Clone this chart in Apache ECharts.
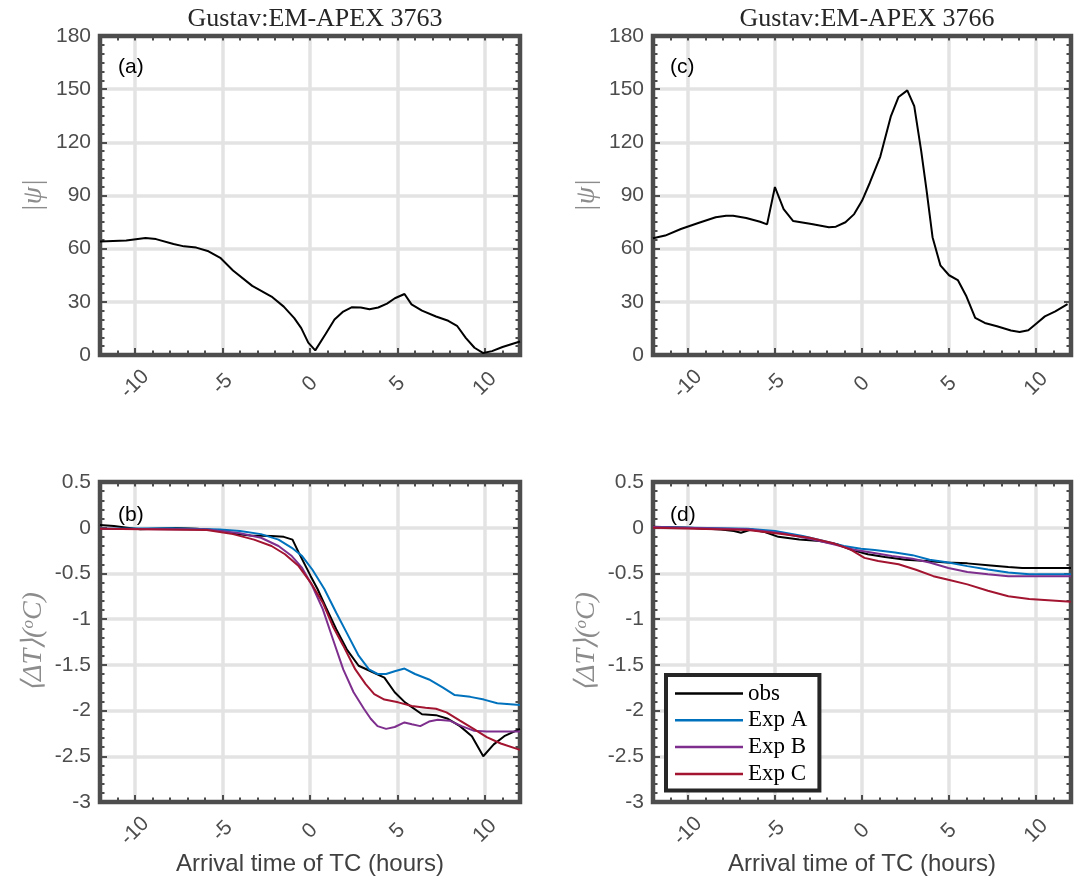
<!DOCTYPE html>
<html>
<head>
<meta charset="utf-8">
<script src="https://cdn.jsdelivr.net/npm/echarts@6/dist/echarts.min.js"></script>
<style>
  html, body { margin: 0; padding: 0; background: #fff; }
  #main { width: 1083px; height: 888px; }
</style>
</head>
<body>
<div id="main"></div>
<script>
// ---- data: [hour, value] ----
var psi3763 = [[-12,64],[-10.5,64.6],[-9.4,66],[-8.8,65.4],[-7.8,62.6],[-7.2,61.3],[-6.5,60.6],[-5.8,58.5],[-5.1,54.6],[-4.4,47.7],[-3.3,39],[-2.2,33],[-1.5,27.3],[-0.9,20.8],[-0.5,15.2],[-0.1,7],[0.3,2.6],[0.9,12],[1.4,20],[1.9,24.5],[2.4,27],[2.9,26.8],[3.4,25.8],[3.9,26.8],[4.4,29],[4.85,32],[5.4,34.4],[5.8,28.6],[6.4,25],[7.2,21.7],[7.9,19.3],[8.4,16.5],[8.9,9.7],[9.4,4.1],[9.9,1.1],[10.4,2.2],[11,4.5],[12,7.6]];

var psi3766 = [[-12,65.9],[-11.3,67.4],[-10.4,71.1],[-9.4,74.5],[-8.4,77.7],[-7.8,78.6],[-7.4,78.6],[-6.65,77.3],[-5.85,75.2],[-5.45,73.7],[-5.0,94.8],[-4.5,82.3],[-3.95,75.6],[-2.9,73.9],[-1.9,72.1],[-1.5,72.4],[-0.95,74.9],[-0.45,79.5],[0,87],[0.45,97.2],[1.05,112],[1.65,134.5],[2.1,145.6],[2.6,149.3],[3.0,140.4],[3.4,115],[3.7,93.5],[4.05,66.5],[4.5,50.6],[5.0,45],[5.5,42.3],[6.0,33],[6.5,20.9],[7.05,18.1],[7.75,16.2],[8.55,13.8],[9.05,13],[9.55,14],[10.05,18.1],[10.5,21.8],[11.1,24.6],[11.8,28.7]];

// panel (b), EM-APEX 3763
var obs3763 = [[-12,0.03],[-11.2,0.018],[-10.45,0],[-9.7,-0.018],[-8.9,-0.01],[-7.7,-0.004],[-6.5,-0.01],[-5.15,-0.03],[-4.2,-0.07],[-3.4,-0.085],[-2.2,-0.09],[-1.5,-0.1],[-1.0,-0.13],[-0.65,-0.27],[-0.25,-0.42],[0.04,-0.53],[0.43,-0.67],[0.92,-0.875],[1.5,-1.11],[2.1,-1.33],[2.78,-1.51],[3.47,-1.57],[4.25,-1.64],[4.84,-1.8],[5.43,-1.91],[6.4,-2.04],[7.2,-2.05],[7.88,-2.09],[8.57,-2.17],[9.25,-2.28],[9.9,-2.5],[10.5,-2.37],[11.1,-2.28],[12,-2.2]];
var expA3763 = [[-12,-0.01],[-7.9,-0.007],[-5.15,-0.02],[-4.0,-0.036],[-2.8,-0.07],[-1.8,-0.13],[-1.04,-0.22],[-0.45,-0.31],[0.14,-0.46],[0.82,-0.67],[1.5,-0.93],[2.1,-1.15],[2.78,-1.4],[3.37,-1.55],[3.86,-1.6],[4.35,-1.6],[4.84,-1.57],[5.4,-1.54],[6.0,-1.6],[6.8,-1.66],[7.6,-1.75],[8.27,-1.83],[9.16,-1.85],[9.94,-1.88],[10.7,-1.92],[12,-1.94]];
var expB3763 = [[-12,-0.01],[-5.9,-0.02],[-4.0,-0.06],[-2.8,-0.11],[-1.8,-0.2],[-1.04,-0.31],[-0.45,-0.44],[0.14,-0.64],[0.73,-0.89],[1.31,-1.22],[1.9,-1.55],[2.49,-1.8],[3.08,-1.98],[3.47,-2.09],[3.86,-2.17],[4.35,-2.2],[4.84,-2.18],[5.4,-2.13],[5.82,-2.15],[6.3,-2.17],[6.8,-2.12],[7.3,-2.1],[7.98,-2.11],[8.67,-2.17],[9.35,-2.22],[10.1,-2.23],[12,-2.23]];
var expC3763 = [[-12,-0.01],[-5.9,-0.025],[-4.4,-0.07],[-3.2,-0.13],[-2.2,-0.2],[-1.43,-0.29],[-0.65,-0.42],[0.04,-0.6],[0.73,-0.82],[1.31,-1.08],[1.9,-1.29],[2.59,-1.55],[3.18,-1.71],[3.67,-1.82],[4.25,-1.88],[5.04,-1.91],[5.82,-1.95],[6.6,-1.97],[7.2,-1.98],[7.8,-2.02],[8.57,-2.11],[9.35,-2.2],[10.1,-2.29],[10.9,-2.36],[12,-2.43]];

// panel (d), EM-APEX 3766
var obs3766 = [[-12,0.01],[-9.9,0],[-8.1,-0.02],[-7.35,-0.036],[-6.95,-0.055],[-6.36,-0.02],[-5.58,-0.047],[-4.8,-0.1],[-3.6,-0.13],[-2.42,-0.145],[-1.44,-0.18],[-0.65,-0.24],[0.33,-0.29],[1.32,-0.32],[2.5,-0.35],[3.68,-0.365],[4.87,-0.38],[6.05,-0.39],[7.23,-0.41],[8.4,-0.43],[9.2,-0.44],[12,-0.44]];
var expA3766 = [[-12,0.007],[-6.56,-0.01],[-4.99,-0.036],[-3.4,-0.09],[-2.2,-0.146],[-1.04,-0.2],[-0.06,-0.23],[0.73,-0.245],[1.9,-0.27],[2.9,-0.3],[3.88,-0.35],[4.96,-0.38],[6.05,-0.42],[7.23,-0.456],[8.4,-0.49],[9.6,-0.51],[12,-0.51]];
var expB3766 = [[-12,0.007],[-6.56,-0.018],[-4.6,-0.06],[-3.0,-0.12],[-1.64,-0.18],[-0.45,-0.24],[0.53,-0.27],[1.71,-0.31],[2.9,-0.34],[3.88,-0.38],[4.96,-0.44],[6.05,-0.485],[7.23,-0.51],[8.4,-0.53],[12,-0.53]];
var expC3766 = [[-12,0],[-6.56,-0.025],[-4.6,-0.07],[-3.0,-0.11],[-1.64,-0.17],[-0.65,-0.24],[0.14,-0.33],[0.93,-0.365],[2.1,-0.4],[3.1,-0.46],[4.1,-0.53],[4.96,-0.57],[6.05,-0.62],[7.23,-0.69],[8.4,-0.75],[9.6,-0.78],[12,-0.81]];

var panelTitles = ['Gustav:EM-APEX 3763', 'Gustav:EM-APEX 3766'];
var panelTags = ['(a)', '(b)', '(c)', '(d)'];
var legendNames = ['obs', 'Exp A', 'Exp B', 'Exp C'];
var expColors = ['#000000', '#0072BD', '#7E2F8E', '#A2142F'];

var sansFont = 'Liberation Sans, Arial, Helvetica, sans-serif';
var serifFont = 'Liberation Serif, Times New Roman, serif';
var frameColor = '#4d4d4d';
var gridColor = '#e3e3e3';

var myChart = echarts.init(document.getElementById('main'));

// grid boxes: a, b, c, d
var grids = [
	{ left: 100, top: 36, width: 420, height: 319 },
	{ left: 100, top: 482, width: 420, height: 320 },
	{ left: 653, top: 36, width: 418, height: 319 },
	{ left: 653, top: 482, width: 418, height: 320 }
];

var xAxes = [];
var yAxes = [];
var mainX = [];
var mainY = [];

grids.forEach(function(g, i) {
	g.show = true;
	g.borderColor = frameColor;
	g.borderWidth = 4.5;
	g.backgroundColor = 'transparent';
	g.z = 2;
	var bottomRow = (i === 1 || i === 3);

	// main x axis with labels and grid lines
	mainX.push(xAxes.length);
	xAxes.push({
		type: 'value', gridIndex: i, position: 'bottom', min: -12, max: 12, splitNumber: 5, z: 1,
		name: bottomRow ? 'Arrival time of TC (hours)' : '',
		nameLocation: 'middle', nameGap: 44,
		nameTextStyle: { fontFamily: sansFont, fontSize: 24, color: '#404040' },
		axisLine: { show: false, onZero: false },
		axisTick: { show: true, inside: true, length: 7, lineStyle: { color: frameColor, width: 2 } },
		splitLine: { show: true, showMinLine: false, showMaxLine: false, lineStyle: { color: gridColor, width: 3.5 } },
		axisLabel: {
			rotate: 45, margin: 29, align: 'center', verticalAlign: 'middle',
			fontFamily: sansFont, fontSize: 21, color: '#4d4d4d',
			showMinLabel: false, showMaxLabel: false,
			formatter: function(v) { return (v % 5 === 0) ? String(v) : ''; }
		}
	});
	// hourly minor ticks bottom and top
	['bottom', 'top'].forEach(function(pos) {
		xAxes.push({
			type: 'value', gridIndex: i, position: pos, min: -12, max: 12, interval: 1, z: 1,
			axisLine: { show: false, onZero: false },
			axisTick: { show: true, inside: true, length: 4.5, lineStyle: { color: frameColor, width: 2 } },
			splitLine: { show: false },
			axisLabel: { show: false }
		});
	});

	var yOpt = bottomRow
		? { min: -3, max: 0.5, interval: 0.5, minor: 5 }
		: { min: 0, max: 180, interval: 30, minor: 6 };

	mainY.push(yAxes.length);
	yAxes.push({
		type: 'value', gridIndex: i, position: 'left', min: yOpt.min, max: yOpt.max, interval: yOpt.interval, z: 1,
		name: bottomRow ? '⟨ΔT⟩({s|o}C)' : '|ψ|',
		nameLocation: 'middle', nameRotate: 90, nameGap: 52,
		nameTextStyle: {
			fontFamily: serifFont, fontStyle: 'italic', fontSize: 28, color: '#8c8c8c',
			rich: { s: { fontFamily: serifFont, fontStyle: 'italic', fontSize: 17, color: '#8c8c8c', verticalAlign: 'top' } }
		},
		axisLine: { show: false, onZero: false },
		axisTick: { show: true, inside: true, length: 7, lineStyle: { color: frameColor, width: 2 } },
		minorTick: { show: true, splitNumber: yOpt.minor, length: 4.5, lineStyle: { color: frameColor, width: 2 } },
		splitLine: { show: true, showMinLine: false, showMaxLine: false, lineStyle: { color: gridColor, width: 3.5 } },
		axisLabel: { margin: 9, fontFamily: sansFont, fontSize: 21, color: '#4d4d4d' }
	});
	yAxes.push({
		type: 'value', gridIndex: i, position: 'right', min: yOpt.min, max: yOpt.max, interval: yOpt.interval, z: 1,
		axisLine: { show: false, onZero: false },
		axisTick: { show: true, inside: true, length: 7, lineStyle: { color: frameColor, width: 2 } },
		minorTick: { show: true, splitNumber: yOpt.minor, length: 4.5, lineStyle: { color: frameColor, width: 2 } },
		splitLine: { show: false },
		axisLabel: { show: false }
	});
});

function lineSeries(name, data, panel, color) {
	return {
		name: name, type: 'line', data: data, symbol: 'none', smooth: false,
		xAxisIndex: mainX[panel], yAxisIndex: mainY[panel], z: 3,
		lineStyle: { color: color, width: 2 }, itemStyle: { color: color }
	};
}

var series = [
	lineSeries('psi3763', psi3763, 0, '#000'),
	lineSeries('psi3766', psi3766, 2, '#000')
];
[[obs3763, expA3763, expB3763, expC3763], [obs3766, expA3766, expB3766, expC3766]].forEach(function(set, k) {
	var panel = k === 0 ? 1 : 3;
	set.forEach(function(d, j) {
		series.push(lineSeries(legendNames[j], d, panel, expColors[j]));
	});
});

var titles = [
	{ text: panelTitles[0], left: 310, top: 1, textAlign: 'center' },
	{ text: panelTitles[1], left: 862, top: 1, textAlign: 'center' }
].map(function(t) {
	t.textStyle = { fontFamily: serifFont, fontSize: 26, fontWeight: 'normal', color: '#262626' };
	return t;
});
var tagPos = [[118, 57], [118, 505], [670, 57], [670, 505]];
panelTags.forEach(function(tag, i) {
	titles.push({
		text: tag, left: tagPos[i][0], top: tagPos[i][1], padding: 0,
		textStyle: { fontFamily: sansFont, fontSize: 21, fontWeight: 'normal', color: '#000' }
	});
});

var option = {
	animation: false,
	backgroundColor: '#fff',
	title: titles,
	grid: grids,
	xAxis: xAxes,
	yAxis: yAxes,
	legend: {
		data: legendNames,
		orient: 'vertical',
		left: 666, top: 675,
		padding: [7, 12, 5, 9],
		icon: 'rect',
		itemWidth: 68, itemHeight: 2.5, itemGap: 3.8,
		borderColor: '#262626', borderWidth: 4, borderRadius: 0,
		backgroundColor: '#fff',
		z: 10,
		textStyle: { fontFamily: serifFont, fontSize: 23, lineHeight: 22.7, color: '#000' }
	},
	series: series
};
myChart.setOption(option);
</script>
</body>
</html>
